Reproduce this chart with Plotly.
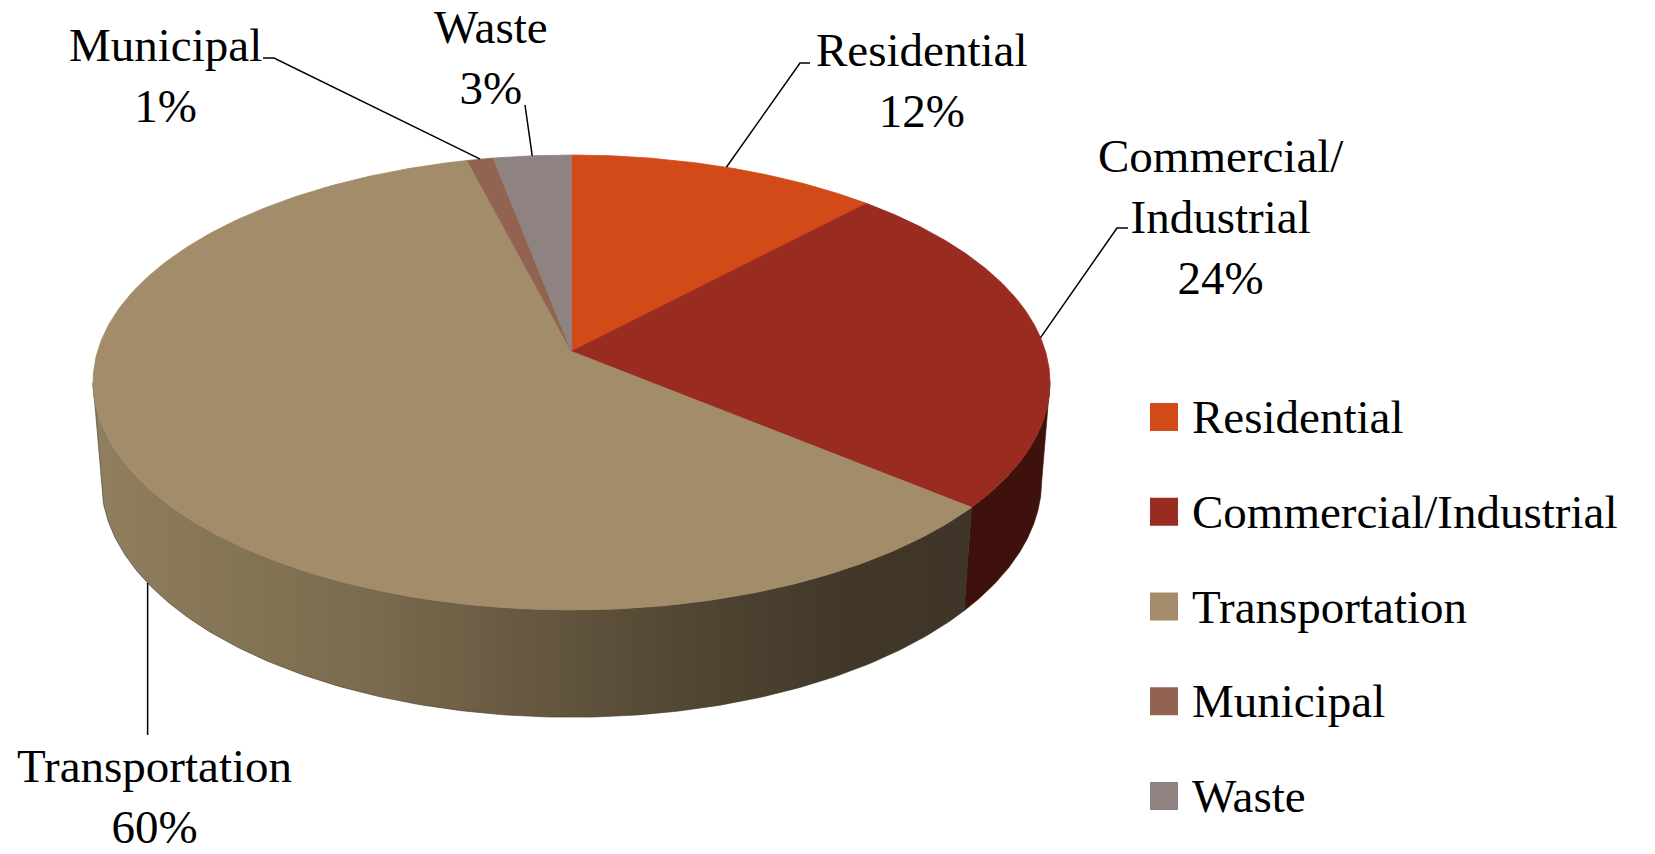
import numpy as np
import plotly.graph_objects as go

# ---------------- data ----------------
categories = ["Residential", "Commercial/Industrial", "Transportation", "Municipal", "Waste"]
values = [12, 24, 60, 1, 3]
label_names = ["Residential", "Commercial/<br>Industrial", "Transportation", "Municipal", "Waste"]

# ---------------- styles ----------------
top_colors = ["#D14A18", "#9A2B20", "#A38C69", "#936352", "#8F8382"]
side_scales = [
    [[0, "#5E2208"], [1, "#5E2208"]],
    [[0, "#3F110C"], [1, "#3F110C"]],
    [[0, "#8F7F5F"], [0.3, "#7C6C4F"], [0.65, "#554935"], [0.85, "#413829"], [1, "#3E3528"]],
    [[0, "#4A2C22"], [1, "#4A2C22"]],
    [[0, "#47403F"], [1, "#47403F"]],
]
FONT = "Liberation Serif"
FS = 47

# projection of a tilted disc (perspective) into page pixels
CX, CY = 571.5, 351.5
K = 3068.6
R = 0.15447
H = 0.03656
PHI = np.arcsin(0.471)
SP, CP = np.sin(PHI), np.cos(PHI)


def proj(theta, y):
    theta = np.asarray(theta, dtype=float)
    depth = 1 - y * SP + R * CP * np.cos(theta)
    up = y * CP + R * SP * np.cos(theta)
    right = R * np.sin(theta)
    return CX + K * right / depth, CY - K * up / depth


total = float(sum(values))
bounds = np.concatenate([[0], np.cumsum(values)]) / total * 2 * np.pi
th_s1 = np.arccos(-R * CP)
th_s2 = 2 * np.pi - th_s1

fig = go.Figure()

# side walls
for i, cat in enumerate(categories):
    a = max(bounds[i], th_s1)
    b = min(bounds[i + 1], th_s2)
    if b <= a:
        continue
    th = np.linspace(a, b, 200)
    xt, yt = proj(th, 0.0)
    xb, yb = proj(th[::-1], -H)
    xs = np.concatenate([xt, xb, xt[:1]])
    ys = np.concatenate([yt, yb, yt[:1]])
    fig.add_trace(go.Scatter(
        x=xs, y=ys, mode="lines", fill="toself",
        line=dict(width=0.6, color=side_scales[i][-1][1]),
        fillgradient=dict(type="horizontal", colorscale=side_scales[i],
                          start=float(xs.min()), stop=float(xs.max())),
        hoverinfo="skip", showlegend=False))

# top faces
for i, cat in enumerate(categories):
    th = np.linspace(bounds[i], bounds[i + 1], 300)
    xa, ya = proj(th, 0.0)
    xs = np.concatenate([[CX], xa, [CX]])
    ys = np.concatenate([[CY], ya, [CY]])
    fig.add_trace(go.Scatter(
        x=xs, y=ys, mode="lines", fill="toself", fillcolor=top_colors[i],
        line=dict(width=0.8, color=top_colors[i]),
        hoverinfo="skip", showlegend=False, name=cat))

# data labels with leader lines
mids = (bounds[:-1] + bounds[1:]) / 2
label_pos = {  # label centre, leader elbow points (page px)
    "Residential": ((921, 80), [(800, 63), (810, 63)]),
    "Commercial/Industrial": ((1221, 217), [(1117, 228), (1128, 228)]),
    "Transportation": ((154, 796), None),
    "Municipal": ((165, 75), [(274, 58), (263, 58)]),
    "Waste": ((491, 57), [(525, 105)]),
}
annotations = []
shapes = []
for i, cat in enumerate(categories):
    (lx, ly), elbow = label_pos[cat]
    annotations.append(dict(
        x=lx, y=ly, xref="x", yref="y", showarrow=False, borderpad=0,
        text=f"{label_names[i]}<br>{values[i]}%", align="center",
        font=dict(family=FONT, size=FS, color="#000000")))
    if cat == "Transportation":
        ax, ay = proj(mids[i], -H)
        pts = [(float(ax), float(ay)), (float(ax), 735.0)]
    else:
        ax, ay = proj(mids[i], 0.0)
        pts = [(float(ax), float(ay))] + elbow
    path = "M " + " L ".join(f"{px},{py}" for px, py in pts)
    shapes.append(dict(type="path", path=path, xref="x", yref="y",
                       line=dict(color="#000000", width=1.5)))

# legend
LEG_X0, LEG_Y0, LEG_STEP, SW = 1150, 417, 94.75, 28
for i, cat in enumerate(categories):
    yc = LEG_Y0 + i * LEG_STEP
    shapes.append(dict(type="rect", xref="x", yref="y",
                       x0=LEG_X0, x1=LEG_X0 + SW, y0=yc - SW / 2, y1=yc + SW / 2,
                       fillcolor=top_colors[i], line=dict(width=0)))
    annotations.append(dict(
        x=LEG_X0 + SW + 13, y=yc, xref="x", yref="y", showarrow=False,
        xanchor="left", yanchor="middle", text=cat, borderpad=0,
        font=dict(family=FONT, size=FS, color="#000000")))

fig.update_layout(
    width=1655, height=854, margin=dict(l=0, r=0, t=0, b=0),
    paper_bgcolor="#FFFFFF", plot_bgcolor="#FFFFFF",
    xaxis=dict(range=[0, 1655], visible=False, fixedrange=True),
    yaxis=dict(range=[854, 0], visible=False, fixedrange=True),
    annotations=annotations, shapes=shapes, showlegend=False,
)
fig.write_html("out.html", config={"displayModeBar": False},
               post_script="document.body.style.margin='0';document.body.style.overflow='hidden';")
